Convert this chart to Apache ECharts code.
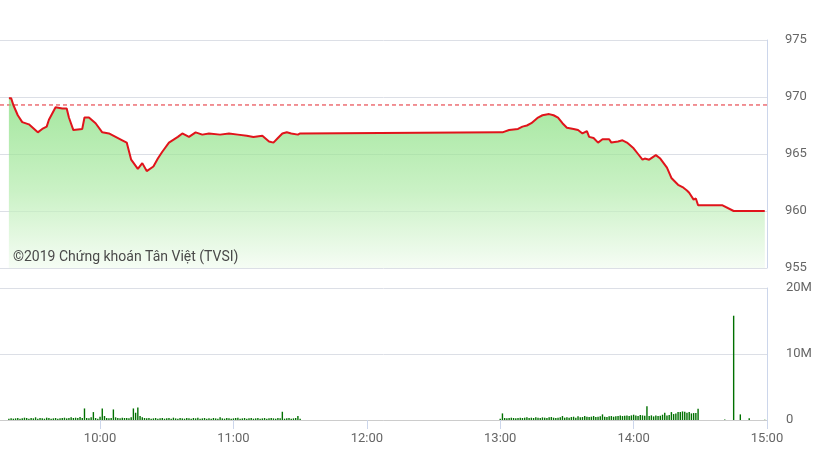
<!DOCTYPE html>
<html>
<head>
<meta charset="utf-8">
<script src="https://cdn.jsdelivr.net/npm/echarts@6/dist/echarts.min.js"></script>
<style>
html,body{margin:0;padding:0;background:#fff;}
#main{width:821px;height:461px;}
</style>
</head>
<body>
<div id="main"></div>
<script>
// ---- Data ----
const priceTimes = ['9:19','9:20','9:21','9:23','9:25','9:28','9:32','9:34','9:36','9:37','9:40','9:43','9:45','9:46','9:48','9:52','9:53','9:55','9:58',
  '10:01','10:04','10:07','10:10','10:12','10:14','10:17','10:19','10:21','10:24','10:26','10:28','10:31','10:35','10:37','10:40','10:43','10:46','10:49','10:54','10:58',
  '11:02','11:06','11:09','11:13','11:16','11:18','11:20','11:22','11:24','11:26','11:29','11:30',
  '13:00','13:01','13:04','13:08','13:10','13:12','13:14','13:17','13:19','13:22','13:24','13:26','13:28','13:30','13:33','13:35','13:37','13:39','13:40','13:42','13:44','13:46','13:49','13:50','13:53','13:55','13:57',
  '14:00','14:02','14:04','14:05','14:07','14:10','14:12','14:15','14:17','14:20','14:22','14:24','14:25','14:27','14:28','14:29','14:33','14:40','14:45','14:59'];
const priceValues = [969.9,969.9,969.3,968.4,967.8,967.6,966.9,967.2,967.4,968.0,969.1,969.0,969.0,968.2,967.1,967.2,968.2,968.2,967.7,
  966.9,966.8,966.5,966.2,966.0,964.5,963.7,964.2,963.5,963.9,964.6,965.2,966.0,966.5,966.8,966.5,966.9,966.7,966.8,966.7,966.8,
  966.7,966.6,966.5,966.6,966.1,966.0,966.4,966.8,966.9,966.8,966.7,966.8,
  966.9,966.9,967.1,967.2,967.4,967.5,967.7,968.2,968.4,968.5,968.4,968.2,967.7,967.3,967.2,967.1,966.8,967.0,966.5,966.4,966.0,966.3,966.3,966.0,966.1,966.2,966.0,
  965.5,965.0,964.5,964.6,964.5,964.9,964.6,963.8,962.9,962.3,962.1,961.8,961.6,961.0,961.1,960.5,960.5,960.5,960.0,960.0];
const refPrice = 969.3;

// volume per minute (millions), morning session from 9:19
const morningStart = '9:19';
const morningVol = [
  0.2,0.25,0.2,0.25,0.3,0.2,0.25,0.35,0.3,0.2,
  0.3,0.25,0.4,0.2,0.3,0.25,0.2,0.35,0.3,0.2,
  0.25,0.3,0.2,0.25,0.3,0.35,0.25,0.3,0.4,0.3,
  0.35,0.3,0.45,0.3,1.75,0.3,0.25,0.4,1.2,0.3,
  0.2,0.5,1.75,0.6,0.3,0.25,0.3,1.6,0.4,0.3,
  0.25,0.35,0.3,0.3,0.25,0.4,1.75,1.1,1.9,0.6,
  0.4,0.3,0.25,0.3,0.2,0.25,0.3,0.2,0.25,0.3,
  0.2,0.25,0.3,0.2,0.35,0.25,0.2,0.3,0.25,0.2,
  0.3,0.25,0.2,0.3,0.25,0.35,0.2,0.25,0.3,0.2,
  0.25,0.2,0.3,0.25,0.2,0.4,0.25,0.2,0.3,0.25,
  0.2,0.25,0.3,0.35,0.2,0.25,0.3,0.2,0.25,0.3,
  0.2,0.25,0.3,0.2,0.25,0.3,0.2,0.25,0.3,0.25,
  0.2,0.3,0.25,1.25,0.2,0.25,0.3,0.2,0.25,0.3,
  0.6,0.2];
// afternoon session from 13:00
const afternoonStart = '13:00';
const afternoonVol = [
  0.2,1.0,0.3,0.25,0.3,0.35,0.3,0.25,0.3,0.35,
  0.3,0.35,0.4,0.3,0.35,0.3,0.4,0.35,0.3,0.4,
  0.35,0.3,0.4,0.45,0.35,0.3,0.35,0.4,0.6,0.35,
  0.4,0.35,0.45,0.5,0.35,0.55,0.4,0.45,0.6,0.5,
  0.45,0.5,0.6,0.45,0.5,0.55,0.85,0.5,0.45,0.55,
  0.6,0.5,0.55,0.6,0.7,0.6,0.65,0.7,0.6,0.7,
  0.8,0.7,0.6,0.75,0.7,0.65,2.1,0.6,0.7,0.55,
  0.7,0.6,0.65,0.8,1.1,0.7,0.75,1.2,0.9,1.0,
  1.2,1.2,1.3,1.25,1.1,1.2,1.0,1.05,1.05,1.7];
// late trades
const lateTimes = ['14:41','14:45','14:48','14:52','14:59'];
const lateVol = [0.08,15.8,0.85,0.25,0.05];

const xTicks = ['10:00','11:00','12:00','13:00','14:00','15:00'];
const priceTicks = [955,960,965,970,975];
const volTicks = ['0','10M','20M'];

// ---- helpers ----
function toMin(s){const p=s.split(':').map(Number);return p[0]*60+p[1];}
function fmt(m){const h=Math.floor(m/60),mm=Math.round(m%60);return h+':'+(mm<10?'0':'')+mm;}
const priceData = priceTimes.map((t,i)=>[toMin(t),priceValues[i]]);
const volData = [];
morningVol.forEach((v,i)=>volData.push([toMin(morningStart)+i,v]));
afternoonVol.forEach((v,i)=>volData.push([toMin(afternoonStart)+i,v]));
lateTimes.forEach((t,i)=>volData.push([toMin(t),lateVol[i]]));
const tickMins = xTicks.map(toMin);
const xMin = toMin('9:15'), xMax = toMin('15:00');

const chart = echarts.init(document.getElementById('main'));
const gridLine = '#dcdfe6';
const edge = '#ccd6eb';
const labelStyle = {color:'#666',fontSize:13,fontFamily:'Roboto, sans-serif'};
chart.setOption({
  animation:false,
  grid:[
    {left:0,right:54,top:40,height:228},
    {left:0,right:54,top:288,height:132}
  ],
  xAxis:[
    {type:'value',gridIndex:0,min:xMin,max:xMax,axisLine:{show:false},axisTick:{show:false},axisLabel:{show:false},splitLine:{show:false}},
    {type:'value',gridIndex:1,min:xMin,max:xMax,
      axisLine:{show:true,lineStyle:{color:'#ccc',width:1}},
      axisTick:{show:true,customValues:tickMins,length:9,lineStyle:{color:edge}},
      axisLabel:Object.assign({customValues:tickMins,margin:12,formatter:v=>fmt(v)},labelStyle),
      splitLine:{show:false}}
  ],
  yAxis:[
    {type:'value',gridIndex:0,position:'right',min:priceTicks[0],max:priceTicks[priceTicks.length-1],interval:5,
      axisLine:{show:true,lineStyle:{color:edge}},axisTick:{show:false},
      axisLabel:Object.assign({margin:18},labelStyle),
      splitLine:{show:true,lineStyle:{color:gridLine}}},
    {type:'value',gridIndex:1,position:'right',min:0,max:20,interval:10,
      axisLine:{show:true,lineStyle:{color:edge}},axisTick:{show:false},
      axisLabel:Object.assign({margin:19,formatter:v=>volTicks[Math.round(v/10)]},labelStyle),
      splitLine:{show:true,lineStyle:{color:gridLine}}}
  ],
  graphic:[{type:'text',left:13,top:250,z:100,style:{text:'©2019 Chứng khoán Tân Việt (TVSI)',fill:'#4a4a4a',font:'14px Roboto, sans-serif'}}],
  series:[
    {type:'line',xAxisIndex:0,yAxisIndex:0,data:priceData,showSymbol:false,z:3,
      lineStyle:{color:'#e0141b',width:2},
      areaStyle:{origin:'start',color:new echarts.graphic.LinearGradient(0,0,0,1,[
        {offset:0,color:'#7ddc75'},{offset:0.55,color:'#b3ebac'},{offset:1,color:'#f1fbef'}])}
    },
    {type:'line',xAxisIndex:0,yAxisIndex:0,data:[[xMin,refPrice],[xMax,refPrice]],showSymbol:false,silent:true,z:2,
      lineStyle:{color:'#e3262e',width:1,type:[4,3]}},
    {type:'bar',xAxisIndex:1,yAxisIndex:1,data:volData,barWidth:1.4,itemStyle:{color:'#007000'}}
  ]
});
</script>
</body>
</html>
